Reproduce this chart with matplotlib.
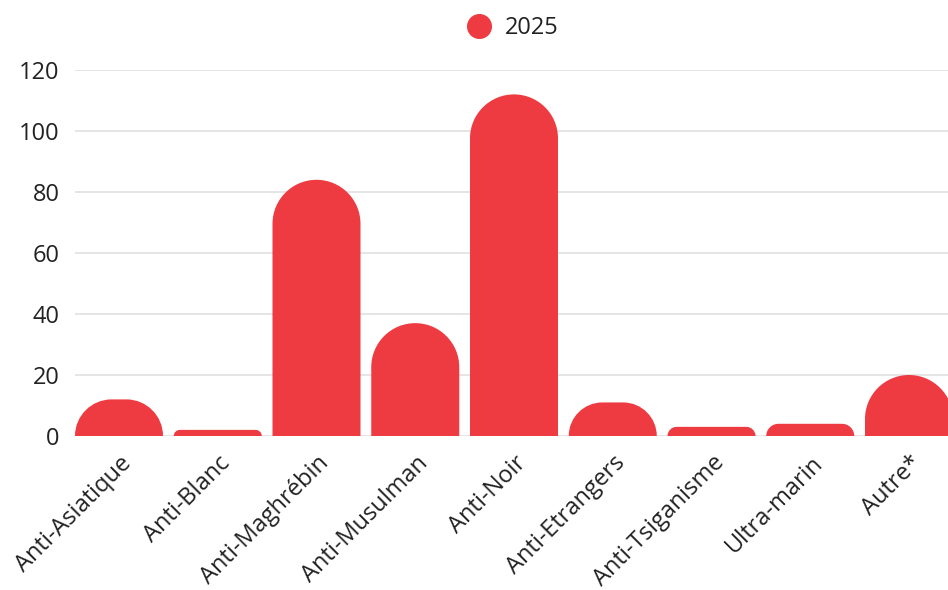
import numpy as np
import matplotlib.pyplot as plt
import matplotlib.transforms as mtransforms
from matplotlib.path import Path
from matplotlib.patches import PathPatch
from matplotlib.lines import Line2D

plt.rcParams['font.family'] = ['Open Sans', 'DejaVu Sans']

categories = ["Anti-Asiatique", "Anti-Blanc", "Anti-Maghrébin", "Anti-Musulman",
              "Anti-Noir", "Anti-Etrangers", "Anti-Tsiganisme", "Ultra-marin", "Autre*"]
values_2025 = [12, 2, 84, 37, 112, 11, 3, 4, 20]
series_name = "2025"
yticks = [0, 20, 40, 60, 80, 100, 120]

bar_color = "#ee3b42"
grid_color = "#e3e3e3"
text_color = "#222222"

W, H, DPI = 948, 590, 100
fig = plt.figure(figsize=(W / DPI, H / DPI), dpi=DPI)
ax_left, ax_right, ax_top, ax_bottom = 75, 948, 70, 436
ax = fig.add_axes([ax_left / W, (H - ax_bottom) / H,
                   (ax_right - ax_left) / W, (ax_bottom - ax_top) / H])

n = len(categories)
# category slots are a bit wider than the visible plot, the last one runs off the edge
slot_px = 98.75
xmin = -44 / slot_px
xmax = xmin + (ax_right - ax_left) / slot_px
ax.set_xlim(xmin, xmax)
ax.set_ylim(0, 120)

# pixels per data unit, used to keep corners circular on screen
sx = slot_px
sy = (ax_bottom - ax_top) / 120.0
bar_w = 88 / slot_px
K = 0.5523


def rounded_bar(xc, h):
    x0, x1 = xc - bar_w / 2, xc + bar_w / 2
    r_px = min(bar_w * sx / 2, h * sy)
    rx, ry = r_px / sx, r_px / sy
    verts = [(x0, 0), (x0, h - ry),
             (x0, h - ry + K * ry), (x0 + rx - K * rx, h), (x0 + rx, h),
             (x1 - rx, h),
             (x1 - rx + K * rx, h), (x1, h - ry + K * ry), (x1, h - ry),
             (x1, 0), (x0, 0)]
    codes = [Path.MOVETO, Path.LINETO,
             Path.CURVE4, Path.CURVE4, Path.CURVE4,
             Path.LINETO,
             Path.CURVE4, Path.CURVE4, Path.CURVE4,
             Path.LINETO, Path.CLOSEPOLY]
    return PathPatch(Path(verts, codes), facecolor=bar_color, edgecolor="none", zorder=3)


for i, v in enumerate(values_2025):
    ax.add_patch(rounded_bar(i, v))

for y in yticks:
    ax.axhline(y, color=grid_color, lw=1.3, zorder=1)

for s in ax.spines.values():
    s.set_visible(False)

ax.set_yticks(yticks)
ax.set_yticklabels([str(t) for t in yticks], fontsize=17, color=text_color)
ax.tick_params(axis='y', length=0, pad=11)
ax.set_xticks(range(n))
ax.set_xticklabels(categories, rotation=45, ha='right', va='center',
                   rotation_mode='anchor', fontsize=17, color=text_color)
ax.tick_params(axis='x', length=0, pad=17)
shift = mtransforms.ScaledTranslation(9 / DPI, 0, fig.dpi_scale_trans)
for lbl in ax.get_xticklabels():
    lbl.set_transform(lbl.get_transform() + shift)

# legend centred above the plot
handle = Line2D([], [], marker='o', linestyle='none', markersize=17,
                markerfacecolor=bar_color, markeredgecolor=bar_color)
fig.legend([handle], [series_name], loc='center', bbox_to_anchor=(507 / W, 1 - 28 / H),
           frameon=False, fontsize=17, handletextpad=0.1, labelcolor=text_color)

fig.savefig("out.png", dpi=DPI)
